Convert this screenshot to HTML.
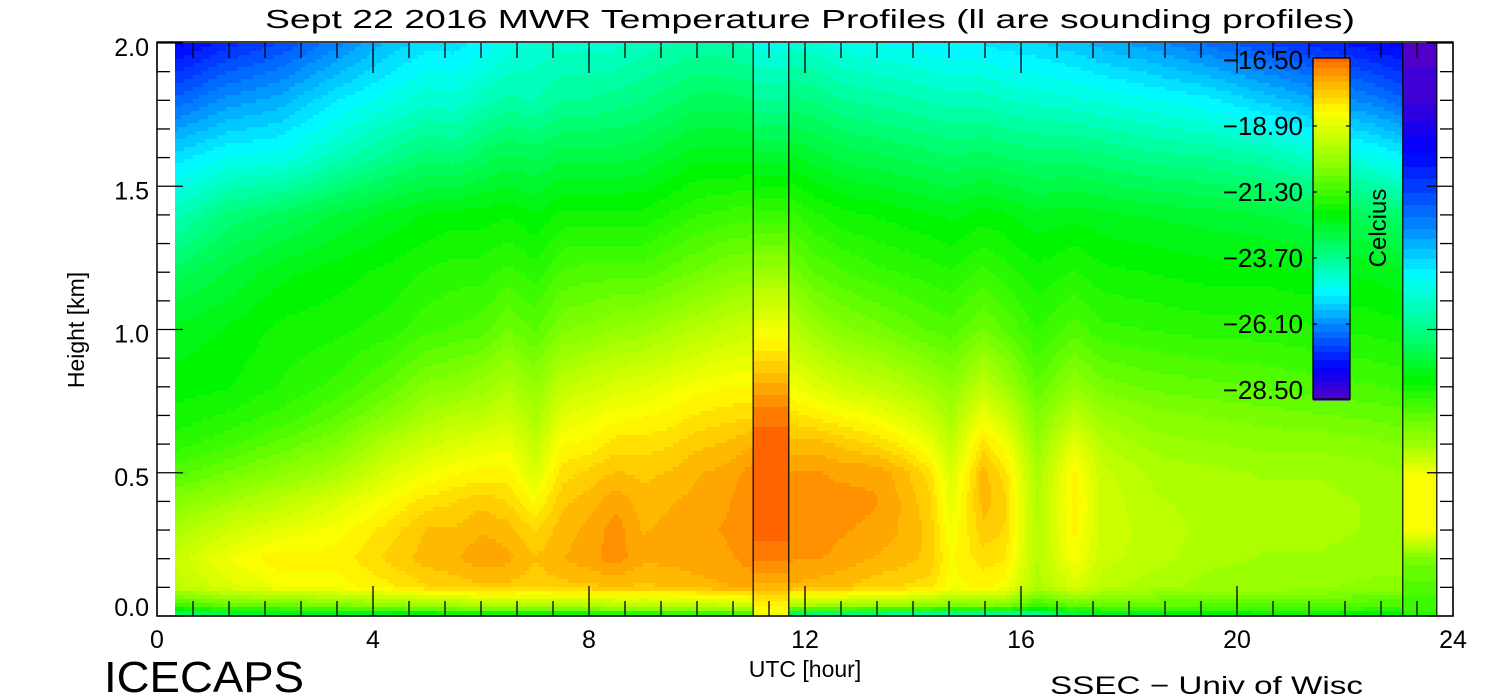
<!DOCTYPE html>
<html><head><meta charset="utf-8"><style>
html,body{margin:0;padding:0;background:#fff;width:1500px;height:700px;overflow:hidden}
svg{display:block}
text{font-family:"Liberation Sans",sans-serif;fill:#000}
</style></head><body>
<svg id="chart" width="1500" height="700" xmlns="http://www.w3.org/2000/svg">
<defs><clipPath id="plotclip"><rect x="157" y="42" width="1296" height="574"/></clipPath></defs>
<g clip-path="url(#plotclip)">
<g id="field"></g>
<g id="snd"></g>
</g>
<g id="axes"></g>
<g id="cbar"></g>
<text x="810" y="28" font-size="26" text-anchor="middle" textLength="1090" lengthAdjust="spacingAndGlyphs">Sept 22 2016 MWR Temperature Profiles (ll are sounding profiles)</text>
<text x="805" y="677" font-size="23" text-anchor="middle">UTC [hour]</text>
<text transform="translate(84,330) rotate(-90)" font-size="23" text-anchor="middle">Height [km]</text>
<text x="104" y="692" font-size="44" textLength="200" lengthAdjust="spacingAndGlyphs">ICECAPS</text>
<text x="1050" y="694" font-size="25" textLength="313" lengthAdjust="spacingAndGlyphs">SSEC − Univ of Wisc</text>
</svg>
<script>
const heights=[0,0.03,0.1,0.2,0.3,0.4,0.5,0.6,0.7,0.8,1.0,1.2,1.4,1.6,1.8,2.0];
const times=[0.33,1.3,2.3,3.3,4.3,5,5.5,6,6.5,7,7.5,8,8.5,9,9.5,10,10.5,11.04,11.7,12.2,12.7,13.3,13.8,14.3,14.7,15.3,15.7,16.3,17,17.5,18.5,19.5,20.5,21.5,22.5,23.07];
const temps=[
[-24,-21.5,-19.5,-19.3,-19.8,-20.3,-21,-21.5,-21.8,-22,-22.3,-23,-24,-25,-26.3,-27.5],
[-23.5,-21,-19,-18.6,-19.2,-19.9,-20.6,-21.2,-21.6,-21.9,-22.1,-22.6,-23.3,-24.6,-25.8,-27],
[-23,-21,-18.6,-18.2,-18.8,-19.5,-20.2,-20.8,-21.3,-21.6,-21.8,-22.2,-23,-24.5,-25.5,-26.6],
[-23,-20.7,-18.5,-18.3,-18.5,-19,-19.8,-20.4,-20.9,-21.3,-21.7,-22,-22.6,-24,-24.9,-26],
[-23,-20.5,-18.2,-17.8,-18,-18.4,-19,-19.6,-20.3,-20.8,-21.5,-21.8,-22.3,-23.5,-24.5,-25.3],
[-22.8,-20.3,-17.9,-17.5,-17.6,-18,-18.6,-19.2,-19.8,-20.3,-21.2,-21.6,-22.1,-23.2,-24.2,-25],
[-22.6,-20.2,-17.8,-17.4,-17.6,-17.9,-18.4,-19,-19.6,-20.2,-21.1,-21.5,-22,-23.3,-24.3,-25],
[-22.5,-20,-17.7,-17.2,-17.4,-17.7,-18.3,-18.8,-19.5,-20,-21,-21.5,-22,-23,-24,-24.8],
[-22.5,-20,-17.7,-17.3,-17.5,-17.9,-18.3,-18.7,-19.2,-19.7,-20.6,-21.3,-21.9,-22.8,-23.8,-24.5],
[-22.5,-20,-17.8,-17.6,-17.9,-18.4,-19,-19.4,-19.8,-20.1,-20.9,-21.5,-22.1,-22.9,-23.9,-24.3],
[-22.5,-20,-17.7,-17.4,-17.5,-17.7,-18,-18.4,-18.9,-19.4,-20.4,-21.1,-21.8,-22.7,-23.6,-24.2],
[-22.5,-20,-17.7,-17.2,-17.3,-17.5,-17.8,-18.3,-18.7,-19.2,-20.3,-21,-21.8,-22.7,-23.6,-24.2],
[-22.4,-19.8,-17.6,-17,-17,-17.2,-17.6,-18,-18.5,-19,-20.1,-21,-21.8,-22.7,-23.5,-24.2],
[-22.3,-19.8,-17.7,-17.3,-17.4,-17.5,-17.7,-18,-18.4,-18.9,-20,-21,-21.8,-22.6,-23.4,-24],
[-22.2,-19.8,-17.6,-17.3,-17.3,-17.4,-17.6,-17.9,-18.3,-18.7,-19.8,-20.8,-21.6,-22.4,-23.2,-23.9],
[-22,-19.7,-17.5,-17.2,-17.2,-17.3,-17.4,-17.7,-18.1,-18.5,-19.6,-20.6,-21.4,-22.2,-23,-23.8],
[-22,-19.6,-17.4,-17.2,-17.1,-17.2,-17.3,-17.6,-18,-18.4,-19.4,-20.4,-21.3,-22.2,-23,-23.8],
[-21.8,-19.5,-17.3,-17,-16.9,-16.9,-17,-17.4,-17.9,-18.4,-19.2,-20.3,-21.2,-22.2,-23.1,-24],
[-24.5,-20,-17.4,-17.1,-17,-17,-17.1,-17.5,-18,-18.6,-19.5,-20.5,-21.3,-22.3,-23.3,-24.2],
[-24.8,-20.2,-17.5,-17.1,-17,-17,-17.1,-17.5,-18.2,-18.9,-20,-20.9,-21.6,-22.5,-23.4,-24.3],
[-25,-20.2,-17.6,-17.2,-17.1,-17,-17.2,-17.7,-18.4,-19.2,-20.3,-21.1,-21.8,-22.7,-23.6,-24.5],
[-25,-20.3,-17.8,-17.4,-17.2,-17.1,-17.2,-17.9,-18.6,-19.4,-20.5,-21.3,-21.9,-22.8,-23.7,-24.6],
[-25,-20.4,-17.9,-17.5,-17.4,-17.4,-17.5,-18.2,-18.9,-19.6,-20.7,-21.4,-22,-22.9,-23.8,-24.7],
[-25,-20.5,-18,-17.7,-17.7,-17.8,-18,-18.7,-19.3,-19.9,-20.9,-21.5,-22.1,-23,-23.9,-24.8],
[-25,-20.7,-18.5,-18.4,-18.6,-18.8,-19,-19.4,-19.8,-20.2,-21,-21.6,-22.2,-23.1,-24,-24.9],
[-25,-20.6,-18.3,-18,-17.7,-17.5,-17.5,-18,-18.7,-19.4,-20.6,-21.3,-22,-23,-24,-24.9],
[-25,-20.7,-18.5,-18.1,-17.9,-17.8,-18,-18.5,-19.2,-19.9,-20.9,-21.5,-22.1,-23.1,-24.1,-25],
[-24.5,-21.5,-19.8,-19.6,-19.6,-19.7,-19.8,-20.1,-20.4,-20.8,-21.4,-21.8,-22.3,-23.2,-24.2,-25.1],
[-23.5,-21,-19,-18.5,-18.3,-18.2,-18.3,-18.8,-19.5,-20.1,-21,-21.6,-22.2,-23.2,-24.3,-25.3],
[-23,-21,-19.5,-19.3,-19.2,-19.2,-19.3,-19.6,-20,-20.5,-21.3,-21.8,-22.3,-23.3,-24.4,-25.5],
[-22.8,-21,-19.8,-19.5,-19.5,-19.6,-19.7,-20,-20.3,-20.7,-21.4,-21.9,-22.4,-23.5,-24.6,-25.8],
[-22.5,-21,-20,-19.8,-19.7,-19.7,-19.8,-20.1,-20.4,-20.8,-21.5,-22,-22.5,-23.6,-24.8,-26.2],
[-22.3,-21,-20,-19.9,-19.8,-19.8,-19.9,-20.2,-20.5,-20.9,-21.5,-22,-22.6,-23.8,-25.2,-26.6],
[-22.3,-21,-20.1,-19.9,-19.8,-19.8,-19.9,-20.2,-20.6,-21,-21.6,-22.1,-22.8,-24.2,-25.6,-27],
[-22.3,-21.2,-20.2,-20,-19.9,-19.9,-20,-20.3,-20.7,-21.1,-21.7,-22.2,-23,-24.5,-26,-27.3],
[-22.3,-21.2,-20.2,-20,-20,-20,-20.1,-20.4,-20.8,-21.2,-21.8,-22.3,-23.2,-24.8,-26.3,-27.5]
];
const soundingTimes=[[11.04,11.7],[23.07,23.7]];
const soundingTemps=[
[-18.6,-18.4,-17.5,-16.8,-16.5,-16.4,-16.4,-16.5,-16.7,-17.3,-18.6,-20,-21.3,-22.5,-23.6,-24.5],
[-21.5,-21.3,-21,-20.5,-18.5,-18.4,-18.6,-20,-20.8,-21.8,-23.5,-24.8,-26.2,-27.3,-28.2,-28.5]
];
const xTicks=[0,4,8,12,16,20,24];
const yTicks=[0.0,0.5,1.0,1.5,2.0];
const cbarTicks=[-16.5,-18.9,-21.3,-23.7,-26.1,-28.5];
const cmT=[-28.5,-27.4,-26,-24.7,-23.4,-22.0,-20.4,-19.3,-18.4,-17.3,-16.5];
const cmC=[[80,0,200],[0,0,255],[0,128,255],[0,255,255],[0,255,128],[0,245,0],[128,255,0],[200,255,0],[255,255,0],[255,170,0],[255,100,0]];

const NS='http://www.w3.org/2000/svg';
const X0=157,X1=1453,Y0=616,Y1=43;
const xs=t=>X0+(t/24)*(X1-X0);
const ys=h=>Y0-(h/2)*(Y0-Y1);
function color(v){
  v=Math.round(v/0.25)*0.25;
  if(v<=cmT[0])return 'rgb('+cmC[0]+')';
  for(let i=1;i<cmT.length;i++){if(v<=cmT[i]){const f=(v-cmT[i-1])/(cmT[i]-cmT[i-1]);const a=cmC[i-1],b=cmC[i];return 'rgb('+a.map((c,k)=>Math.round(c+(b[k]-c)*f)).join(',')+')';}}
  return 'rgb('+cmC[cmC.length-1]+')';
}
function interp1(arr,vals,x){
  if(x<=arr[0])return [0,0,0];
  for(let i=1;i<arr.length;i++)if(x<=arr[i])return [i-1,i,(x-arr[i-1])/(arr[i]-arr[i-1])];
  const n=arr.length-1;return [n,n,0];
}
function mk(tag,attrs,parent){const e=document.createElementNS(NS,tag);for(const k in attrs)e.setAttribute(k,attrs[k]);parent.appendChild(e);return e;}
const field=document.getElementById('field');
function profileAt(col,h){const [a,b,f]=interp1(heights,null,h);return col[a]+(col[b]-col[a])*f;}
const dx=3,dy=4;
const xa=Math.round(xs(times[0])),xb=Math.round(xs(times[times.length-1]));
for(let y=Y1;y<Y0;y+=dy){
  const h=Math.max(0,(Y0-(y+dy/2))/(Y0-Y1)*2);
  let runStart=xa,runCol=null;
  for(let x=xa;x<=xb;x+=dx){
    const t=((x+dx/2)-X0)/(X1-X0)*24;
    const [a,b,f]=interp1(times,null,t);
    const v=profileAt(temps[a],h)*(1-f)+profileAt(temps[b],h)*f;
    const c=color(v);
    if(runCol===null){runCol=c;runStart=x;}
    else if(c!==runCol){
      const r=mk('rect',{x:runStart,y:y,width:x-runStart+0.6,height:dy+0.6,fill:runCol},field);
      
      
      runCol=c;runStart=x;
    }
  }
  const r=mk('rect',{x:runStart,y:y,width:xb-runStart+3,height:dy+0.6,fill:runCol},field);
  
  
}
const snd=document.getElementById('snd');
soundingTimes.forEach((st,i)=>{
  const xL=xs(st[0]),xR=xs(st[1]);
  for(let y=Y1;y<Y0;y+=2){
    const h=Math.max(0,(Y0-(y+1))/(Y0-Y1)*2);
    const r=mk('rect',{x:xL,y:y,width:xR-xL,height:2.6,fill:color(profileAt(soundingTemps[i],h))},snd);
    
    
  }
  [xL,xR].forEach(x=>{const l=mk('line',{x1:x,x2:x,y1:Y1,y2:Y0,stroke:'#000','stroke-width':1.2},snd);
    
    });
});
const ax=document.getElementById('axes');
const frame=mk('rect',{x:X0,y:Y1-1,width:X1-X0,height:Y0-Y1+1,fill:'none',stroke:'#000','stroke-width':1.5},ax);


for(let t=0;t<=24.001;t+=2/3){
  const maj=Math.abs(t/4-Math.round(t/4))<0.01;const L=maj?30:15;const x=xs(t);
  const a=mk('line',{x1:x,x2:x,y1:Y0,y2:Y0-L,stroke:'#000','stroke-width':1.3},ax);
  
  
  const b=mk('line',{x1:x,x2:x,y1:Y1,y2:Y1+L,stroke:'#000','stroke-width':1.3},ax);
  
  
}
xTicks.forEach(t=>{const e=mk('text',{x:xs(t),y:648,'font-size':25,'text-anchor':'middle'},ax);e.textContent=String(t);
  
  });
for(let k=0;k<=20;k++){
  const h=k*0.1;const maj=k%5===0;const L=maj?26:13;const y=ys(h);
  const a=mk('line',{x1:X0,x2:X0+L,y1:y,y2:y,stroke:'#000','stroke-width':1.3},ax);
  
  
  const b=mk('line',{x1:X1,x2:X1-L,y1:y,y2:y,stroke:'#000','stroke-width':1.3},ax);
  
  
}
yTicks.forEach(h=>{const e=mk('text',{x:149,y:Math.min(ys(h)+13,616),'font-size':25,'text-anchor':'end'},ax);e.textContent=h.toFixed(1);
  
  });
const cb=document.getElementById('cbar');
const CT=58,CB=399,CX=1313,CW=37;
for(let y=CT;y<CB;y+=2){
  const v=-16.5-((y+1-CT)/(CB-CT))*12;
  const r=mk('rect',{x:CX,y:y,width:CW,height:2.6,fill:color(v)},cb);
  
  
}
const cf=mk('rect',{x:CX,y:CT,width:CW,height:CB-CT,fill:'none',stroke:'#000','stroke-width':1.3},cb);


cbarTicks.forEach((v,i)=>{
  const y=60+i*66;
  const t=mk('text',{x:1303,y:y+9,'font-size':26,'text-anchor':'end'},cb);t.textContent='\u2212'+Math.abs(v).toFixed(2);
  
  
  if(i>0&&i<cbarTicks.length-1){
    [[CX,CX+4],[CX+CW,CX+CW-4]].forEach(p=>{const l=mk('line',{x1:p[0],x2:p[1],y1:y,y2:y,stroke:'#000','stroke-width':1.2},cb);
      
      });
  }
});
const cl=mk('text',{transform:'translate(1386,228) rotate(-90)','font-size':24,'text-anchor':'middle'},cb);cl.textContent='Celcius';


</script>
</body></html>
